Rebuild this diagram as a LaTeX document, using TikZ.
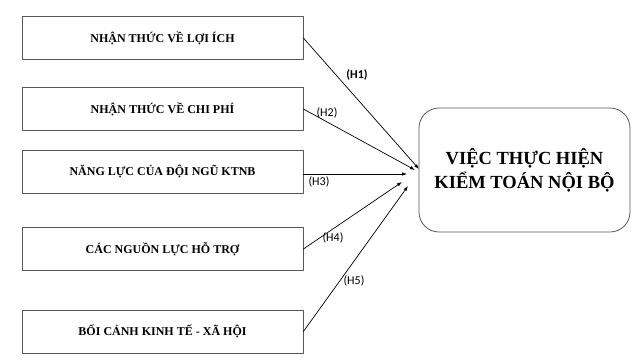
\documentclass[tikz,border=0pt]{standalone}
\usepackage{fontspec}
\setmainfont{Liberation Serif}
\newfontfamily\lblfont{Carlito}
\usetikzlibrary{arrows.meta}

\begin{document}
\begin{tikzpicture}[x=1pt,y=-1pt,>={Latex[length=5pt,width=3.5pt]},line cap=round,line join=round,
  factor/.style={draw=black!65,line width=0.8pt,minimum width=281pt,minimum height=43pt,inner sep=0pt,
    font=\fontsize{12}{14}\selectfont\bfseries},
  outcome/.style={draw=black!65,line width=0.8pt,rounded corners=20pt,minimum width=211pt,minimum height=124pt,
    align=center,font=\fontsize{18.5}{24}\selectfont\bfseries},
  hyp/.style={font=\lblfont\fontsize{12}{14}\selectfont,inner sep=0pt}]
  \useasboundingbox (0,0) rectangle (640,360);

  \node[factor] (f1) at (162.5,38) {NHẬN THỨC VỀ LỢI ÍCH};
  \node[factor] (f2) at (162.5,109) {NHẬN THỨC VỀ CHI PHÍ};
  \node[factor] (f3) at (162.5,171.5) {NĂNG LỰC CỦA ĐỘI NGŨ KTNB};
  \node[factor] (f4) at (162.5,249) {CÁC NGUỒN LỰC HỖ TRỢ};
  \node[factor] (f5) at (162.5,331.5) {BỐI CẢNH KINH TẾ - XÃ HỘI};

  \node[outcome] (kt) at (524.5,170) {VIỆC THỰC HIỆN\\KIỂM TOÁN NỘI BỘ};

  \coordinate (t1) at (419,169);
  \coordinate (t2) at (415,170);
  \coordinate (t3) at (407,174);
  \coordinate (t4) at (402,182);
  \coordinate (t5) at (408,186);

  \foreach \i in {1,2,4,5}
    \draw[->,line width=0.7pt] (f\i.east) -- (t\i);
  \draw[->,line width=0.7pt] ([yshift=-2.5pt]f3.east) -- (t3);

  \node[hyp,font=\lblfont\fontsize{12}{14}\selectfont\bfseries] (h1) at (357,75) {(H1)};
  \node[hyp] (h2) at (327,113) {(H2)};
  \node[hyp] (h3) at (319,182) {(H3)};
  \node[hyp] (h4) at (333,238) {(H4)};
  \node[hyp] (h5) at (354,281) {(H5)};
\end{tikzpicture}
\end{document}
